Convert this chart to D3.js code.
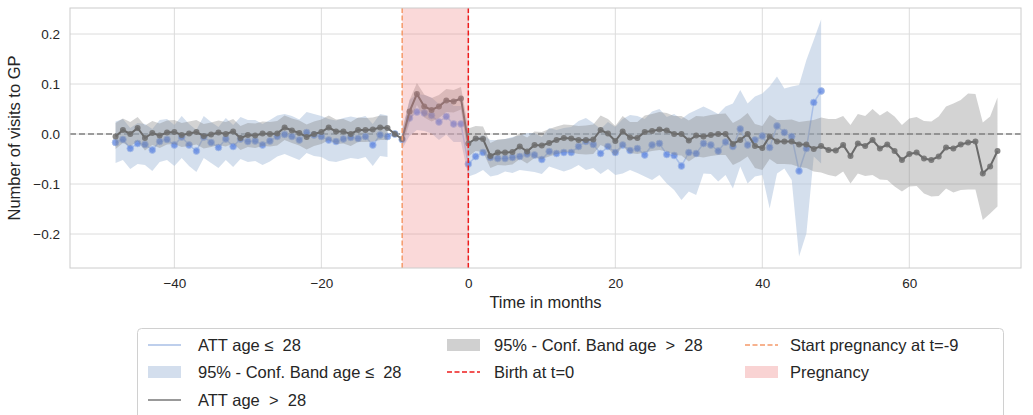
<!DOCTYPE html>
<html>
<head>
<meta charset="utf-8">
<script src="https://cdn.jsdelivr.net/npm/d3@7"></script>
<style>
  body { margin: 0; background: #fff; }
  svg { font-family: "Liberation Sans", Arial, sans-serif; }
  .tick text { fill: #262626; font-size: 13.5px; }
</style>
</head>
<body>
<div id="chart"></div>
<script>
const width = 1033, height = 415
const plot = { left: 70, right: 1021, top: 8, bottom: 268 }

// months -48..72 for age > 28, -48..48 for age <= 28
const monthsOld = d3.range(-48, 73)
const monthsYoung = d3.range(-48, 49)

const attOld = [
  -0.005, 0.008, 0.000, 0.012, -0.008, 0.002, -0.003, 0.003, 0.004, -0.002,
  0.001, 0.004, -0.004, -0.001, 0.003, 0.000, 0.005, -0.008, -0.002, -0.003,
  0.001, 0.000, 0.001, 0.013, 0.007, 0.002, -0.006, 0.000, 0.004, 0.013,
  0.005, 0.005, 0.000, 0.008, 0.008, 0.009, 0.013, 0.012, 0.000, -0.010,
  0.045, 0.080, 0.055, 0.048, 0.055, 0.067, 0.065, 0.071, -0.019, -0.009,
  -0.010, -0.044, -0.037, -0.037, -0.036, -0.025, -0.035, -0.022, -0.023, -0.018,
  -0.012, -0.008, -0.009, -0.012, -0.012, -0.011, 0.008, 0.001, -0.014, 0.005,
  -0.007, -0.008, 0.004, 0.006, 0.009, 0.007, 0.000, 0.000, -0.013, -0.003,
  -0.005, -0.002, 0.000, 0.000, -0.020, -0.012, 0.000, -0.024, -0.028, -0.005,
  -0.015, -0.015, -0.015, -0.021, -0.021, -0.030, -0.024, -0.032, -0.033, -0.022,
  -0.044, -0.019, -0.024, -0.012, -0.029, -0.021, -0.034, -0.052, -0.040, -0.037,
  -0.049, -0.052, -0.045, -0.027, -0.029, -0.021, -0.017, -0.015, -0.079, -0.065,
  -0.034
]
const hiOld = [
  0.022, 0.031, 0.024, 0.034, 0.017, 0.026, 0.021, 0.027, 0.028, 0.022,
  0.025, 0.028, 0.020, 0.023, 0.027, 0.024, 0.030, 0.016, 0.022, 0.021,
  0.025, 0.024, 0.026, 0.037, 0.031, 0.027, 0.019, 0.025, 0.029, 0.037,
  0.029, 0.030, 0.024, 0.033, 0.032, 0.033, 0.037, 0.036, null, 0.005,
  0.068, 0.102, 0.079, 0.072, 0.078, 0.090, 0.088, 0.094, 0.011, 0.016,
  0.015, -0.018, -0.011, -0.010, -0.008, 0.001, -0.007, 0.005, 0.004, 0.010,
  0.015, 0.019, 0.018, 0.016, 0.017, 0.019, 0.037, 0.030, 0.016, 0.036,
  0.024, 0.024, 0.037, 0.040, 0.044, 0.042, 0.036, 0.036, 0.027, 0.036,
  0.035, 0.038, 0.040, 0.041, 0.022, 0.030, 0.042, 0.020, 0.016, 0.038,
  0.028, 0.028, 0.029, 0.024, 0.026, 0.028, 0.033, 0.030, 0.030, 0.036,
  0.018, 0.040, 0.036, 0.050, 0.037, 0.046, 0.035, 0.018, 0.031, 0.034,
  0.026, 0.025, 0.035, 0.055, 0.061, 0.068, 0.081, 0.080, 0.023, 0.035,
  0.073
]
const loOld = [
  -0.030, -0.018, -0.025, -0.014, -0.033, -0.022, -0.028, -0.021, -0.020, -0.026,
  -0.024, -0.021, -0.029, -0.026, -0.022, -0.025, -0.019, -0.032, -0.026, -0.028,
  -0.024, -0.025, -0.023, -0.012, -0.018, -0.023, -0.031, -0.024, -0.020, -0.012,
  -0.020, -0.019, -0.024, -0.016, -0.016, -0.015, -0.012, -0.012, null, -0.025,
  0.022, 0.058, 0.033, 0.025, 0.032, 0.044, 0.043, 0.049, -0.045, -0.034,
  -0.036, -0.068, -0.062, -0.063, -0.061, -0.050, -0.059, -0.048, -0.050, -0.045,
  -0.040, -0.036, -0.037, -0.040, -0.041, -0.040, -0.022, -0.029, -0.044, -0.025,
  -0.038, -0.040, -0.037, -0.034, -0.032, -0.035, -0.042, -0.043, -0.055, -0.045,
  -0.047, -0.044, -0.042, -0.042, -0.062, -0.055, -0.045, -0.068, -0.072, -0.050,
  -0.060, -0.060, -0.061, -0.066, -0.068, -0.075, -0.077, -0.082, -0.085, -0.075,
  -0.099, -0.079, -0.084, -0.082, -0.091, -0.092, -0.105, -0.115, -0.105, -0.104,
  -0.119, -0.125, -0.124, -0.109, -0.117, -0.112, -0.111, -0.111, -0.172, -0.159,
  -0.145
]

const attYoung = [
  -0.017, -0.011, -0.029, -0.019, -0.021, -0.032, -0.015, -0.011, -0.022, -0.006,
  -0.022, -0.034, -0.006, -0.017, -0.027, -0.010, -0.025, -0.010, -0.015, -0.014,
  -0.022, -0.014, -0.005, -0.001, -0.005, -0.012, 0.003, -0.002, -0.005, -0.012,
  -0.015, -0.010, -0.007, -0.009, -0.005, -0.022, -0.002, -0.005, 0.000, -0.011,
  0.032, 0.044, 0.042, 0.037, 0.024, 0.035, 0.020, 0.020, -0.060, -0.045,
  -0.037, -0.047, -0.049, -0.049, -0.047, -0.045, -0.040, -0.042, -0.051, -0.035,
  -0.039, -0.037, -0.037, -0.025, -0.015, -0.021, -0.039, -0.025, -0.037, -0.022,
  -0.033, -0.029, -0.042, -0.022, -0.019, -0.041, -0.043, -0.064, -0.037, -0.039,
  -0.019, -0.022, -0.034, -0.016, -0.025, 0.010, -0.022, -0.012, -0.004, -0.027,
  0.016, 0.003, -0.005, -0.074, -0.029, 0.063, 0.086
]
const hiYoung = [
  0.025, 0.030, 0.012, 0.022, 0.020, 0.010, 0.028, 0.030, 0.018, 0.036,
  0.020, 0.008, 0.036, 0.024, 0.014, 0.032, 0.018, 0.034, 0.028, 0.028,
  0.020, 0.028, 0.037, 0.040, 0.036, 0.029, 0.044, 0.040, 0.036, 0.030,
  0.027, 0.032, 0.035, 0.032, 0.036, 0.020, 0.040, 0.037, null, 0.010,
  0.068, 0.080, 0.078, 0.073, 0.060, 0.071, 0.056, 0.056, -0.020, -0.008,
  -0.002, -0.012, -0.012, -0.010, -0.006, -0.003, 0.002, 0.002, -0.006, 0.012,
  0.008, 0.012, 0.014, 0.026, 0.032, 0.022, 0.010, 0.024, 0.014, 0.030,
  0.038, 0.036, 0.030, 0.045, 0.050, 0.034, 0.040, 0.030, 0.041, 0.048,
  0.055, 0.048, 0.040, 0.055, 0.061, 0.088, 0.061, 0.075, 0.081, 0.095,
  0.115, 0.091, 0.095, 0.098, 0.148, 0.188, 0.229
]
const loYoung = [
  -0.058, -0.052, -0.070, -0.060, -0.062, -0.074, -0.056, -0.052, -0.064, -0.048,
  -0.064, -0.076, -0.048, -0.058, -0.068, -0.052, -0.066, -0.050, -0.056, -0.054,
  -0.062, -0.055, -0.045, -0.040, -0.046, -0.052, -0.038, -0.044, -0.046, -0.054,
  -0.056, -0.052, -0.048, -0.050, -0.046, -0.064, -0.044, -0.046, null, -0.030,
  -0.004, 0.008, 0.006, 0.001, -0.012, -0.001, -0.016, -0.016, -0.085, -0.080,
  -0.072, -0.085, -0.082, -0.075, -0.078, -0.072, -0.074, -0.076, -0.080, -0.065,
  -0.070, -0.075, -0.070, -0.062, -0.072, -0.068, -0.080, -0.070, -0.082, -0.079,
  -0.072, -0.078, -0.085, -0.092, -0.082, -0.099, -0.112, -0.132, -0.115, -0.122,
  -0.079, -0.080, -0.095, -0.082, -0.109, -0.065, -0.099, -0.085, -0.082, -0.149,
  -0.079, -0.069, -0.092, -0.245, -0.199, -0.045, -0.059
]

const xTicks = [-40, -20, 0, 20, 40, 60]
const yTicks = [-0.2, -0.1, 0.0, 0.1, 0.2]
const pregnancyStart = -9, birth = 0

const svg = d3.select("#chart").append("svg").attr("width", width).attr("height", height)

const x = d3.scaleLinear().domain([-54.2, 75.2]).range([plot.left, plot.right])
const y = d3.scaleLinear().domain([-0.268, 0.252]).range([plot.bottom, plot.top])

const fmt = d => d3.format(".1f")(d).replace("-", "\u2212")

// grid + spines
const grid = svg.append("g")
grid.selectAll("line.gx").data(xTicks).join("line")
  .attr("x1", d => x(d)).attr("x2", d => x(d)).attr("y1", plot.top).attr("y2", plot.bottom)
  .attr("stroke", "#dcdcdc").attr("stroke-width", 1)
grid.selectAll("line.gy").data(yTicks).join("line")
  .attr("y1", d => y(d)).attr("y2", d => y(d)).attr("x1", plot.left).attr("x2", plot.right)
  .attr("stroke", "#dcdcdc").attr("stroke-width", 1)

const xAxis = svg.append("g").attr("transform", `translate(0,${plot.bottom})`)
  .call(d3.axisBottom(x).tickValues(xTicks).tickSize(0).tickPadding(10).tickFormat(d => String(d).replace("-", "\u2212")))
xAxis.select(".domain").remove()
const yAxis = svg.append("g").attr("transform", `translate(${plot.left},0)`)
  .call(d3.axisLeft(y).tickValues(yTicks).tickSize(0).tickPadding(10).tickFormat(fmt))
yAxis.select(".domain").remove()

svg.append("text").attr("x", (plot.left + plot.right) / 2).attr("y", 308).attr("text-anchor", "middle")
  .attr("fill", "#262626").style("font-size", "16.5px").text("Time in months")
svg.append("text").attr("transform", `translate(20,${(plot.top + plot.bottom) / 2}) rotate(-90)`)
  .attr("text-anchor", "middle").attr("fill", "#262626").style("font-size", "16.5px").text("Number of visits to GP")

const g = svg.append("g")
const clip = svg.append("clipPath").attr("id", "clip").append("rect")
  .attr("x", plot.left).attr("y", plot.top).attr("width", plot.right - plot.left).attr("height", plot.bottom - plot.top)
g.attr("clip-path", "url(#clip)")

const young = monthsYoung.map((m, i) => ({ m, v: attYoung[i], lo: loYoung[i], hi: hiYoung[i] }))
const old = monthsOld.map((m, i) => ({ m, v: attOld[i], lo: loOld[i], hi: hiOld[i] }))

const area = d3.area().defined(d => d.lo != null).x(d => x(d.m)).y0(d => y(d.lo)).y1(d => y(d.hi))
const line = d3.line().x(d => x(d.m)).y(d => y(d.v))

// zero reference
g.append("line").attr("x1", plot.left).attr("x2", plot.right).attr("y1", y(0)).attr("y2", y(0))
  .attr("stroke", "#808080").attr("stroke-width", 1.5).attr("stroke-dasharray", "6,3")

// age <= 28
g.append("path").attr("d", area(young)).attr("fill", "#b0c4de").attr("opacity", 0.55)
g.append("path").attr("d", line(young)).attr("fill", "none").attr("stroke", "#a9bfe6").attr("stroke-width", 1.5)
g.selectAll("circle.y").data(young).join("circle")
  .attr("cx", d => x(d.m)).attr("cy", d => y(d.v)).attr("r", 3.4)
  .attr("fill", "#5b83e0").attr("fill-opacity", 0.75).attr("stroke", "#a9bfe6").attr("stroke-width", 0.8)

// age > 28
g.append("path").attr("d", area(old)).attr("fill", "#808080").attr("opacity", 0.35)
g.append("path").attr("d", line(old)).attr("fill", "none").attr("stroke", "#6a6a6a").attr("stroke-width", 2)
g.selectAll("circle.o").data(old).join("circle")
  .attr("cx", d => x(d.m)).attr("cy", d => y(d.v)).attr("r", 3)
  .attr("fill", "#6e6e6e").attr("fill-opacity", 0.85)

// pregnancy span and markers
g.append("rect").attr("x", x(pregnancyStart)).attr("width", x(birth) - x(pregnancyStart))
  .attr("y", plot.top).attr("height", plot.bottom - plot.top).attr("fill", "#f08080").attr("opacity", 0.3)
g.append("line").attr("x1", x(pregnancyStart)).attr("x2", x(pregnancyStart)).attr("y1", plot.top).attr("y2", plot.bottom)
  .attr("stroke", "#f5996a").attr("stroke-width", 1.5).attr("stroke-dasharray", "5,2.5")
g.append("line").attr("x1", x(birth)).attr("x2", x(birth)).attr("y1", plot.top).attr("y2", plot.bottom)
  .attr("stroke", "#ee1c1c").attr("stroke-width", 1.5).attr("stroke-dasharray", "5,2.5")

svg.append("rect").attr("x", plot.left).attr("y", plot.top).attr("width", plot.right - plot.left)
  .attr("height", plot.bottom - plot.top).attr("fill", "none").attr("stroke", "#cccccc").attr("stroke-width", 1)

// legend
const legendItems = [
  { label: "ATT age \u2264  28", kind: "line", color: "#a9bfe6", col: 0, row: 0 },
  { label: "95% - Conf. Band age \u2264  28", kind: "patch", color: "#d3deed", col: 0, row: 1 },
  { label: "ATT age  >  28", kind: "line", color: "#777777", col: 0, row: 2 },
  { label: "95% - Conf. Band age  >  28", kind: "patch", color: "#d0d0d0", col: 1, row: 0 },
  { label: "Birth at t=0", kind: "dash", color: "#ee1c1c", col: 1, row: 1 },
  { label: "Start pregnancy at t=-9", kind: "dash", color: "#f5996a", col: 2, row: 0 },
  { label: "Pregnancy", kind: "patch", color: "#f9d3d3", col: 2, row: 1 }
]
const colX = [148, 447, 745], rowY = [345, 372, 400]
const textX = [198, 494, 790]
const legend = svg.append("g")
legend.append("rect").attr("x", 137.5).attr("y", 328.5).attr("width", 866).attr("height", 100)
  .attr("rx", 4).attr("fill", "#fff").attr("stroke", "#d0d0d0")
for (const it of legendItems) {
  const lx = colX[it.col], ly = rowY[it.row]
  if (it.kind === "patch") {
    legend.append("rect").attr("x", lx).attr("y", ly - 6).attr("width", 33).attr("height", 12).attr("fill", it.color)
  } else {
    legend.append("line").attr("x1", lx).attr("x2", lx + 33).attr("y1", ly).attr("y2", ly)
      .attr("stroke", it.color).attr("stroke-width", 1.6).attr("stroke-dasharray", it.kind === "dash" ? "5,2.5" : null)
  }
  legend.append("text").attr("x", textX[it.col]).attr("y", ly).attr("dy", "0.35em")
    .attr("fill", "#262626").style("font-size", "16.5px").style("white-space", "pre").text(it.label)
}
</script>
</body>
</html>
